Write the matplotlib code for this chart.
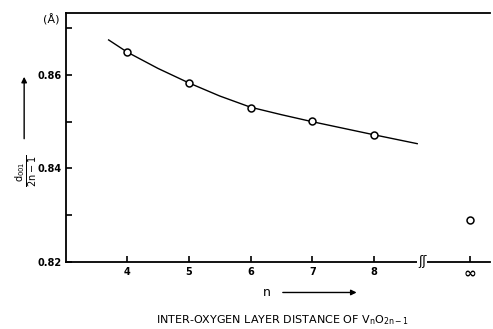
import matplotlib
matplotlib.use("Agg")
import matplotlib.pyplot as plt
from matplotlib.patches import FancyArrowPatch

# data
n_pos = [4, 5, 6, 7, 8]
d_vals = [0.8649, 0.8583, 0.8529, 0.8502, 0.8472]
inf_pos = 9.56
inf_val = 0.8290

# smooth guide curve
curve_n = [3.7, 4.0, 4.5, 5.0, 5.5, 6.0, 6.5, 7.0, 7.5, 8.0, 8.7]
curve_d = [0.8675, 0.8649, 0.8614, 0.8583, 0.8555, 0.8531, 0.8515, 0.8500, 0.8486, 0.8472, 0.8453]

xtick_pos = [4, 5, 6, 7, 8]
xtick_labels = ['4', '5', '6', '7', '8']
ytick_major = [0.82, 0.84, 0.86]
ytick_minor = [0.83, 0.85, 0.87]
break_pos = 8.78

fig = plt.figure(figsize=(4.93, 3.29), dpi=100)
ax = fig.add_axes([0.134, 0.204, 0.86, 0.757])

ax.plot(curve_n, curve_d, color='black', lw=1.0, zorder=2)
ax.plot(n_pos, d_vals, 'o', ms=5, mfc='white', mec='black', mew=1.1, zorder=3)
ax.plot([inf_pos], [inf_val], 'o', ms=5, mfc='white', mec='black', mew=1.1, zorder=3)

ax.set_xlim(3.01, 9.88)
ax.set_ylim(0.82, 0.8733)

ax.set_xticks(xtick_pos + [inf_pos])
ax.set_xticklabels(xtick_labels + [''], fontsize=7, fontweight='bold')
ax.text(inf_pos, -0.045, '∞', transform=ax.get_xaxis_transform(),
        ha='center', va='center', fontsize=11, fontweight='bold')
ax.set_yticks(ytick_major)
ax.set_yticklabels(['%.2f' % v for v in ytick_major], fontsize=7, fontweight='bold')
ax.set_yticks(ytick_minor, minor=True)
ax.tick_params(axis='both', which='both', direction='in', length=4, width=1.2)
ax.tick_params(axis='x', pad=4)
ax.tick_params(axis='y', pad=3)

ax.spines['right'].set_visible(False)
for s in ['left', 'bottom', 'top']:
    ax.spines[s].set_linewidth(1.3)

# axis break mark
ax.text(break_pos, 0.82, 'ʃʃ', ha='center', va='center', fontsize=9,
        clip_on=False, bbox=dict(facecolor='white', edgecolor='none', pad=0.5))

# y label with arrow
fig.text(0.053, 0.48, r'$\frac{\mathrm{d}_{001}}{2\mathrm{n}-1}$', rotation=90,
         ha='center', va='center', fontsize=10)
fig.text(0.103, 0.94, '(Å)', ha='center', va='center', fontsize=8)
fig.add_artist(FancyArrowPatch(
    (0.049, 0.57), (0.049, 0.775), transform=fig.transFigure,
    arrowstyle='-|>', mutation_scale=8, color='black', lw=1.0))

# x label with arrow
fig.text(0.542, 0.111, 'n', ha='center', va='center', fontsize=9)
fig.add_artist(FancyArrowPatch(
    (0.568, 0.111), (0.729, 0.111), transform=fig.transFigure,
    arrowstyle='-|>', mutation_scale=8, color='black', lw=1.0))

fig.text(0.572, 0.026, r'INTER-OXYGEN LAYER DISTANCE OF V$_\mathrm{n}$O$_\mathrm{2n-1}$',
         ha='center', va='center', fontsize=8)

fig.savefig('out.png', dpi=100)
